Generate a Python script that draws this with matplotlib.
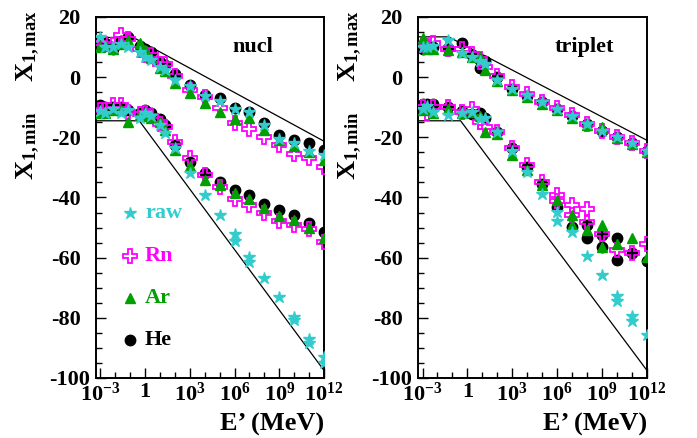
import numpy as np
import matplotlib
matplotlib.use("Agg")
import matplotlib.pyplot as plt

plt.rcParams['font.family'] = ['Liberation Serif', 'DejaVu Serif']
plt.rcParams['font.weight'] = 'bold'
plt.rcParams['mathtext.fontset'] = 'custom'
plt.rcParams['mathtext.rm'] = 'Liberation Serif:bold'
plt.rcParams['mathtext.it'] = 'Liberation Serif:bold'
plt.rcParams['mathtext.bf'] = 'Liberation Serif:bold'
plt.rcParams['axes.unicode_minus'] = False

# ---------------- data ----------------
series_names = ["raw", "Rn", "Ar", "He"]

# nucl panel energies (MeV)
nucl_E = [1e-3, 2e-3, 7e-3, 2.5e-2, 7e-2, 0.45, 1.0, 2.5, 10, 20, 1e2,
          1e3, 1e4, 1e5, 1e6, 1e7, 1e8, 1e9, 1e10, 1e11, 1e12]

nucl_max_he = [12.3, 11.5, 9.5, 12.0, 13.4, 10.2, 9.5, 8.4, 5.1, 4.0, 1.2,
               -2.7, -6.0, -6.9, -10.4, -11.7, -15.4, -19.3, -20.9, -22.0, -24.3]
nucl_max_rn = [11.2, 11.0, 10.6, 14.0, 12.8, 9.5, 7.5, 7.5, 4.5, 4.5, 0.5,
               -4.3, -6.5, -10.4, -15.4, -17.3, -19.8, -22.6, -25.7, -27.0, -29.8]
nucl_max_ar = [10.0, 10.5, 9.5, 11.0, 12.5, 11.2, 9.0, 6.5, 2.9, 2.0, -2.0,
               -5.4, -8.7, -11.7, -14.0, -13.5, -17.5, -21.0, -23.0, -25.0, -27.6]
nucl_max_raw = [13.4, 10.0, 10.0, 11.0, 10.0, 8.4, 6.8, 5.6, 3.5, 2.3, -1.0,
                -3.0, -6.2, -8.0, -10.5, -11.7, -16.0, -20.5, -22.0, -24.5, -26.0]

nucl_min_he = [-9.3, -10.0, -10.0, -10.0, -11.0, -11.8, -11.0, -12.0, -14.0, -16.0, -22.5,
               -28.1, -32.0, -34.8, -37.6, -39.2, -42.0, -44.2, -45.9, -48.6, -51.4]
nucl_min_rn = [-10.9, -11.0, -9.3, -9.3, -11.5, -12.3, -12.0, -12.8, -15.5, -16.5, -21.5,
               -27.0, -32.5, -36.5, -40.5, -42.5, -45.2, -47.8, -49.2, -50.5, -54.8]
nucl_min_ar = [-12.0, -12.0, -11.0, -11.0, -14.8, -12.5, -13.0, -13.5, -15.0, -17.5, -24.3,
               -29.5, -34.2, -36.0, -38.5, -40.5, -43.5, -46.0, -47.5, -50.0, -53.5]
nucl_min_raw = [-11.4, -12.0, -10.5, -12.0, -11.0, -13.5, -12.0, -12.8, -16.0, -18.7, -23.7,
                -32.0, -39.2, -45.9, -52.0, -59.7, -66.9, -73.0, -79.7, -86.9, -93.0]
# second raw estimate visible at high energies
nucl_min_raw2_E = [1e6, 1e7, 1e10, 1e11, 1e12]
nucl_min_raw2 = [-54.4, -61.4, -80.8, -88.5, -95.0]

# triplet panel energies (MeV)
trip_E = [1e-3, 2e-3, 5e-3, 5e-2, 0.43, 2.0, 7.0, 16, 1e2,
          1e3, 1e4, 1e5, 1e6, 1e7, 1e8, 1e9, 1e10, 1e11, 1e12]

trip_max_he = [9.5, 10.5, 10.0, 9.8, 11.2, 7.3, 5.7, 5.5, 0.1,
               -3.8, -6.2, -8.4, -10.6, -12.9, -15.7, -18.0, -20.0, -22.0, -24.6]
trip_max_rn = [10.6, 10.5, 11.4, 9.5, 9.5, 7.8, 6.0, 3.5, 0.5,
               -3.3, -5.5, -8.2, -10.4, -12.7, -15.5, -17.8, -20.0, -21.8, -24.5]
trip_max_ar = [12.9, 9.5, 9.5, 9.0, 8.5, 6.8, 6.8, 2.5, -1.3,
               -4.3, -6.5, -9.0, -10.8, -13.5, -15.8, -16.6, -20.3, -22.3, -25.0]
trip_max_raw = [10.1, 10.0, 10.5, 12.3, 7.9, 6.8, 5.5, 4.4, -1.0,
                -3.8, -6.0, -8.4, -10.6, -12.9, -15.7, -18.0, -20.0, -22.0, -24.6]
trip_max_he2_E = [7.0]
trip_max_he2 = [2.9]

trip_min_he = [-8.8, -9.0, -9.0, -10.0, -11.2, -12.3, -12.0, -13.5, -18.2,
               -23.7, -29.8, -35.4, -43.1, -49.8, -49.2, -52.5, -53.6, -58.5, -61.1]
trip_min_rn = [-10.0, -12.0, -10.0, -9.9, -11.5, -10.5, -15.0, -16.5, -18.2,
               -23.5, -29.3, -34.8, -39.2, -42.6, -43.7, -52.0, -57.5, -58.5, -55.5]
trip_min_ar = [-11.0, -10.5, -12.0, -10.5, -12.0, -11.5, -13.0, -18.2, -19.0,
               -25.9, -31.0, -35.9, -40.9, -45.9, -50.9, -49.2, -55.3, -53.6, -59.9]
trip_min_raw = [-10.5, -9.5, -11.5, -12.6, -12.0, -11.5, -14.0, -13.5, -18.2,
                -24.5, -31.5, -38.7, -44.8, -51.4, -59.5, -65.8, -72.8, -79.5, -85.7]
trip_min_he2_E = [1e8, 1e9, 1e10]
trip_min_he2 = [-53.6, -56.4, -60.8]
trip_min_rn2_E = [1e6, 1e7, 1e8]
trip_min_rn2 = [-41.0, -45.9, -48.1]
trip_min_ar2_E = [1e7, 1e9]
trip_min_ar2 = [-49.2, -56.4]
trip_min_raw2_E = [1e6, 1e10, 1e11]
trip_min_raw2 = [-47.8, -74.5, -81.0]

# envelope lines (E, X)
nucl_upper_E = [5e-4, 0.16, 1e12]
nucl_upper_X = [13.2, 13.2, -21.3]
nucl_lower_E = [5e-4, 0.4, 1e12]
nucl_lower_X = [-14.5, -14.5, -97.5]
trip_upper_E = [5e-4, 0.055, 1e12]
trip_upper_X = [13.4, 13.4, -21.0]
trip_lower_E = [5e-4, 0.35, 1e12]
trip_lower_X = [-14.5, -14.5, -97.5]

xtick_vals = [1e-3, 1, 1e3, 1e6, 1e9, 1e12]
xtick_labels = [r'$10^{-3}$', '1', r'$10^{3}$', r'$10^{6}$', r'$10^{9}$', r'$10^{12}$']
ytick_vals = [-100, -80, -60, -40, -20, 0, 20]
ytick_labels = ['', '-80', '-60', '-40', '-20', '0', '20']

# ---------------- styles ----------------
c_raw = '#33cccc'
c_rn = '#ff00ff'
c_ar = '#00a000'
c_he = 'black'

sty = {
    'He': dict(marker='o', ms=7.5, color=c_he, mec=c_he, mfc=c_he, ls='none'),
    'Rn': dict(marker='P', ms=9.5, color=c_rn, mec=c_rn, mfc='none', mew=1.3, ls='none'),
    'Ar': dict(marker='^', ms=7.5, color=c_ar, mec=c_ar, mfc=c_ar, ls='none'),
    'raw': dict(marker='*', ms=9, color=c_raw, mec=c_raw, mfc=c_raw, ls='none'),
}

fig = plt.figure(figsize=(6.97, 4.38), dpi=100)
W, H = 697.0, 438.0
ax1 = fig.add_axes([96 / W, 60 / H, 228 / W, 361 / H])
ax2 = fig.add_axes([418 / W, 60 / H, 229 / W, 361 / H])


def setup(ax):
    ax.set_xscale('log')
    ax.set_xlim(5e-4, 1e12)
    ax.set_ylim(-100, 20)
    ax.set_xticks(xtick_vals)
    ax.set_xticklabels(xtick_labels)
    minors = [1e-2, 1e-1, 10, 100, 1e4, 1e5, 1e7, 1e8, 1e10, 1e11]
    ax.set_xticks(minors, minor=True)
    ax.set_xticklabels([''] * len(minors), minor=True)
    ax.set_yticks(ytick_vals)
    ax.set_yticklabels(ytick_labels)
    ax.set_yticks([v for v in range(-95, 20, 5) if v % 20 != 0], minor=True)
    ax.tick_params(axis='both', which='both', direction='in', top=False, right=False,
                   width=1.0, labelsize=16)
    ax.tick_params(axis='both', which='major', length=7.5)
    ax.tick_params(axis='both', which='minor', length=4)
    ax.tick_params(axis='y', which='major', pad=11)
    ax.tick_params(axis='x', which='major', pad=3)
    for s in ax.spines.values():
        s.set_linewidth(1.4)
    for lab in ax.get_xticklabels() + ax.get_yticklabels():
        lab.set_fontweight('bold')
    # ROOT-style shifted bottom label
    ax.text(-6 / 228, -100.5, '-100', transform=ax.get_yaxis_transform(),
            ha='right', va='center', fontsize=16, fontweight='bold')


for ax in (ax1, ax2):
    setup(ax)

# lines
ax1.plot(nucl_upper_E, nucl_upper_X, color='black', lw=0.9, zorder=1)
ax1.plot(nucl_lower_E, nucl_lower_X, color='black', lw=0.9, zorder=1)
ax2.plot(trip_upper_E, trip_upper_X, color='black', lw=0.9, zorder=1)
ax2.plot(trip_lower_E, trip_lower_X, color='black', lw=0.9, zorder=1)

# nucl points
ax1.plot(nucl_E, nucl_max_he, zorder=2, **sty['He'])
ax1.plot(nucl_E, nucl_min_he, zorder=2, **sty['He'])
ax1.plot(nucl_E, nucl_max_rn, zorder=3, **sty['Rn'])
ax1.plot(nucl_E, nucl_min_rn, zorder=3, **sty['Rn'])
ax1.plot(nucl_E, nucl_max_ar, zorder=4, **sty['Ar'])
ax1.plot(nucl_E, nucl_min_ar, zorder=4, **sty['Ar'])
ax1.plot(nucl_E, nucl_max_raw, zorder=5, **sty['raw'])
ax1.plot(nucl_E, nucl_min_raw, zorder=5, **sty['raw'])
ax1.plot(nucl_min_raw2_E, nucl_min_raw2, zorder=5, **sty['raw'])

# triplet points
ax2.plot(trip_E, trip_max_he, zorder=2, **sty['He'])
ax2.plot(trip_max_he2_E, trip_max_he2, zorder=2, **sty['He'])
ax2.plot(trip_E, trip_min_he, zorder=2, **sty['He'])
ax2.plot(trip_min_he2_E, trip_min_he2, zorder=2, **sty['He'])
ax2.plot(trip_E, trip_max_rn, zorder=3, **sty['Rn'])
ax2.plot(trip_E, trip_min_rn, zorder=3, **sty['Rn'])
ax2.plot(trip_min_rn2_E, trip_min_rn2, zorder=3, **sty['Rn'])
ax2.plot(trip_E, trip_max_ar, zorder=4, **sty['Ar'])
ax2.plot(trip_E, trip_min_ar, zorder=4, **sty['Ar'])
ax2.plot(trip_min_ar2_E, trip_min_ar2, zorder=4, **sty['Ar'])
ax2.plot(trip_E, trip_max_raw, zorder=5, **sty['raw'])
ax2.plot(trip_E, trip_min_raw, zorder=5, **sty['raw'])
ax2.plot(trip_min_raw2_E, trip_min_raw2, zorder=5, **sty['raw'])

# panel titles
ax1.text((253 - 96) / 228, (378 - 47) / 361, 'nucl', transform=ax1.transAxes,
         ha='center', va='center', fontsize=16, fontweight='bold')
ax2.text((584 - 418) / 229, (378 - 47) / 361, 'triplet', transform=ax2.transAxes,
         ha='center', va='center', fontsize=16, fontweight='bold')

# legend (manual)
leg_colors = [c_raw, c_rn, c_ar, c_he]
leg_keys = ['raw', 'Rn', 'Ar', 'He']
leg_y = [213, 256, 298, 340]
for name, col, ypx in zip(leg_keys, leg_colors, leg_y):
    yax = (378 - ypx) / 361
    ax1.plot([(130 - 96) / 228], [yax], transform=ax1.transAxes, clip_on=False,
             zorder=6, **sty[name])
    ax1.text((145 - 96) / 228, yax, name, transform=ax1.transAxes, color=col,
             ha='left', va='center', fontsize=16, fontweight='bold')

# y axis labels
for xpx in (28, 350):
    fig.text(xpx / W, 1 - 46 / H, r'$X_{1,max}$', rotation=90, ha='center',
             va='center', fontsize=19)
    fig.text(xpx / W, 1 - 146 / H, r'$X_{1,min}$', rotation=90, ha='center',
             va='center', fontsize=19)

# x axis labels
for xr in (324, 647):
    fig.text(xr / W, 1 - 424 / H, 'E\u2019 (MeV)', ha='right', va='center',
             fontsize=19, fontweight='bold')

fig.savefig('out.png', dpi=100)
